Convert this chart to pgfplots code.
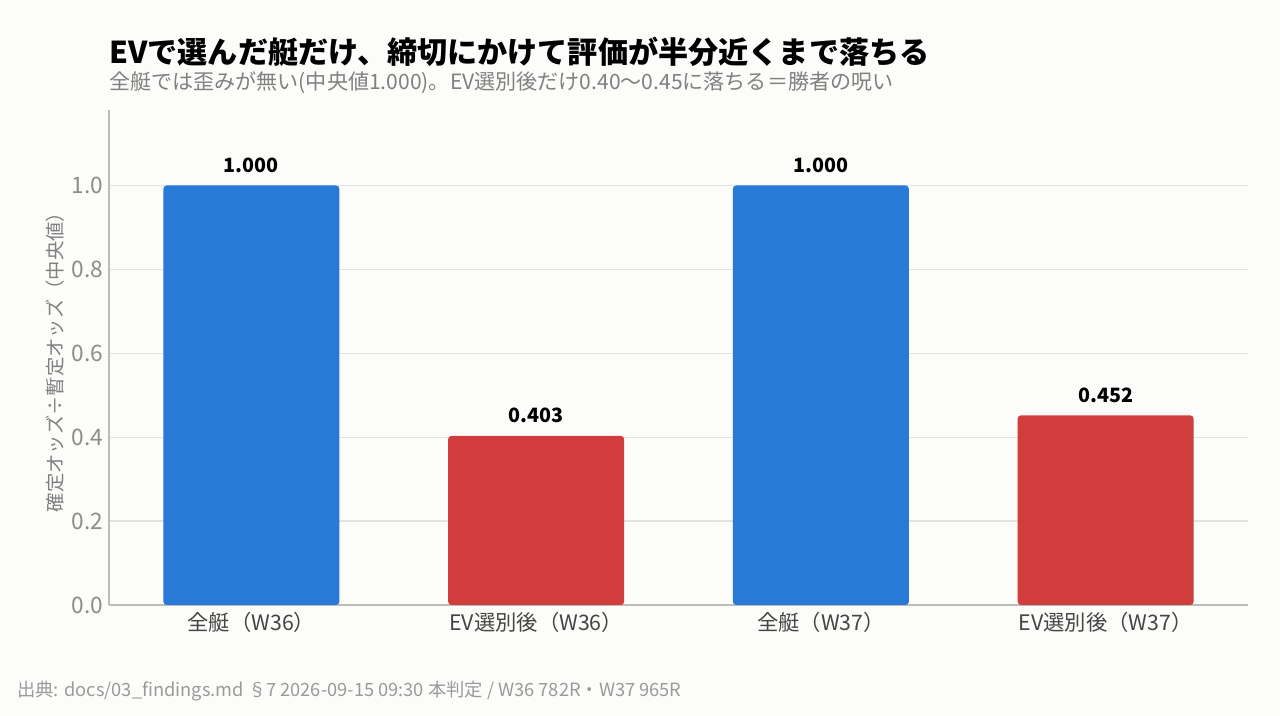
\documentclass[border=0pt]{standalone}
\usepackage{fontspec}
\setmainfont{Noto Sans CJK JP}
\usepackage{pgfplots}
\pgfplotsset{compat=1.18}

\definecolor{bgcol}{HTML}{FCFCFA}
\definecolor{evblue}{HTML}{2979D6}
\definecolor{evred}{HTML}{D13C3C}
\definecolor{axcol}{HTML}{BDBDB8}
\definecolor{gridcol}{HTML}{E2E2E0}
\definecolor{tickcol}{HTML}{8C8C8C}
\definecolor{labcol}{HTML}{444444}
\definecolor{subcol}{HTML}{808080}
\definecolor{footcol}{HTML}{9A9A9A}

\begin{document}
\begin{tikzpicture}
% canvas: 1280 x 716 px at 0.75pt per px, axis origin at px (109,605)
\fill[bgcol] (-81.75pt,-83.25pt) rectangle (878.25pt,453.75pt);

\begin{axis}[
  scale only axis,
  width=854.25pt, height=371.25pt,
  xmin=-0.5, xmax=3.5,
  ymin=0, ymax=1.18,
  axis lines=left,
  axis line style={-, axcol, line width=1pt},
  major tick length=0pt,
  xtick={0,1,2,3},
  xticklabels={全艇（W36）, EV選別後（W36）, 全艇（W37）, EV選別後（W37）},
  xticklabel style={font=\fontsize{16}{19}\selectfont, text=labcol, yshift=-2pt},
  ytick={0,0.2,0.4,0.6,0.8,1.0},
  yticklabel style={font=\fontsize{17}{20}\selectfont, text=tickcol, xshift=-1pt},
  /pgf/number format/.cd, fixed, fixed zerofill, precision=1, assume math mode=true,
  /pgfplots/.cd,
  ymajorgrids,
  grid style={gridcol, line width=0.9pt},
  ylabel={確定オッズ÷暫定オッズ（中央値）},
  ylabel style={font=\fontsize{14.5}{17}\selectfont, text=subcol,
    at={(axis description cs:0,0.5)}, anchor=center, yshift=40.5pt},
  ybar, bar width=132pt, bar shift=0pt,
  nodes near coords,
  every node near coord/.append style={font=\bfseries\fontsize{14.8}{18}\selectfont,
    text=black, yshift=6pt,
    /pgf/number format/fixed, /pgf/number format/fixed zerofill,
    /pgf/number format/precision=3, /pgf/number format/assume math mode=true},
  clip=false,
]
\addplot[fill=evblue, draw=none, rounded corners=2.5pt] coordinates {(0,1.000) (2,1.000)};
\addplot[fill=evred, draw=none, rounded corners=2.5pt] coordinates {(1,0.403) (3,0.452)};
\end{axis}

\node[anchor=base west, inner sep=0pt, font=\bfseries\fontsize{22.6}{27}\selectfont, text=black]
  at (0pt,405.75pt) {EVで選んだ艇だけ、締切にかけて評価が半分近くまで落ちる};
\node[anchor=base west, inner sep=0pt, font=\fontsize{15.8}{19}\selectfont, text=subcol]
  at (0pt,386.25pt) {全艇では歪みが無い(中央値1.000)。EV選別後だけ0.40〜0.45に落ちる＝勝者の呪い};
\node[anchor=base west, inner sep=0pt, font=\fontsize{13.7}{16}\selectfont, text=footcol]
  at (-69pt,-69pt) {出典: docs/03\_findings.md §7 2026-09-15 09:30 本判定 / W36 782R・W37 965R};
\end{tikzpicture}
\end{document}
